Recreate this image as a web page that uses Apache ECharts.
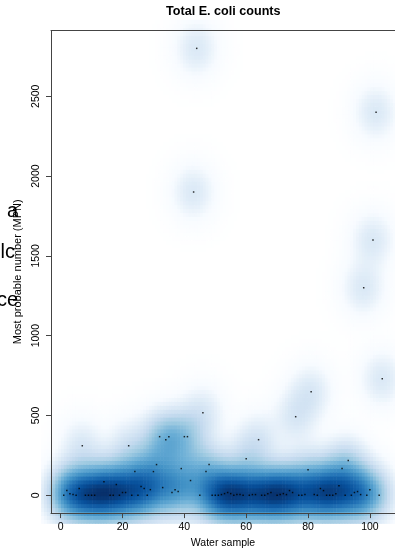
<!DOCTYPE html>
<html>
<head>
<meta charset="utf-8">
<script src="https://cdn.jsdelivr.net/npm/echarts@6/dist/echarts.min.js"></script>
<style>
  html, body { margin: 0; padding: 0; background: #ffffff; }
  #chart { width: 395px; height: 554px; }
</style>
</head>
<body>
<div id="chart"></div>
<script>
// Water sample number and its total E. coli count (MPN)
const sampleIds = [
  1, 2, 3, 4, 5, 6, 7, 8, 9, 10, 11, 12, 13, 14, 15, 16, 17, 18, 19, 20,
  21, 22, 23, 24, 25, 26, 27, 28, 29, 30, 31, 32, 33, 34, 35, 36, 37, 38, 39, 40,
  41, 42, 43, 44, 45, 46, 47, 48, 49, 50, 51, 52, 53, 54, 55, 56, 57, 58, 59, 60,
  61, 62, 63, 64, 65, 66, 67, 68, 69, 70, 71, 72, 73, 74, 75, 76, 77, 78, 79, 80,
  81, 82, 83, 84, 85, 86, 87, 88, 89, 90, 91, 92, 93, 94, 95, 96, 97, 98, 99, 100,
  101, 102, 103, 104
];
const mpnValues = [
  0, 29, 10, 4, 0, 42, 310, 0, 0, 0, 0, 2, 4, 85, 0, 0, 0, 67, 0, 17,
  17, 310, 0, 148, 0, 54, 42, 0, 35, 148, 192, 367, 48, 348, 367, 17, 35, 23, 167, 367,
  367, 92, 1900, 2800, 0, 517, 148, 192, 0, 0, 0, 4, 10, 17, 10, 0, 4, 4, 0, 229,
  0, 4, 4, 348, 0, 0, 10, 17, 2, 0, 4, 10, 4, 29, 17, 492, 0, 0, 4, 160,
  648, 4, 0, 42, 29, 0, 0, 0, 10, 60, 167, 0, 217, 0, 17, 23, 4, 1300, 0, 35,
  1600, 2400, 0, 730
];
const xTickLabels = [0, 20, 40, 60, 80, 100];
const yTickLabels = [0, 500, 1000, 1500, 2000, 2500];

// Smoothed-scatter settings: kernel bandwidths, density gamma, grid size, dots to mark
const bandwidthX = 4.5;
const bandwidthY = 110;
const densityGamma = 0.62;
const gridBins = 128;
const markedPoints = 100;

// White-to-blue colour ramp (256 steps)
const rampAnchors = ['#FFFFFF', '#F7FBFF', '#DEEBF7', '#C6DBEF', '#9ECAE1',
                     '#6BAED6', '#4292C6', '#2171B5', '#08519C', '#08306B'];
function hexToRgb(h) {
  return [parseInt(h.substr(1, 2), 16), parseInt(h.substr(3, 2), 16), parseInt(h.substr(5, 2), 16)];
}
const ramp = [];
(function buildRamp() {
  const rgb = rampAnchors.map(hexToRgb);
  const segs = rgb.length - 1;
  for (let i = 0; i < 256; i++) {
    const t = i / 255 * segs;
    const k = Math.min(Math.floor(t), segs - 1);
    const f = t - k;
    const c = [0, 1, 2].map(j => Math.round(rgb[k][j] + (rgb[k + 1][j] - rgb[k][j]) * f));
    ramp.push('rgb(' + c.join(',') + ')');
  }
})();

// Gaussian kernel density, truncated at 3.4 bandwidths
function kernelDensity(x, y) {
  let s = 0;
  for (let n = 0; n < sampleIds.length; n++) {
    const u = (x - sampleIds[n]) / bandwidthX;
    const v = (y - mpnValues[n]) / bandwidthY;
    if (Math.abs(u) > 3.4 || Math.abs(v) > 3.4) continue;
    s += Math.exp(-0.5 * (u * u + v * v));
  }
  return s;
}

const gx0 = Math.min(...sampleIds) - 1.5 * bandwidthX;
const gx1 = Math.max(...sampleIds) + 1.5 * bandwidthX;
const gy0 = Math.min(...mpnValues) - 1.5 * bandwidthY;
const gy1 = Math.max(...mpnValues) + 1.5 * bandwidthY;
const cellW = (gx1 - gx0) / (gridBins - 1);
const cellH = (gy1 - gy0) / (gridBins - 1);

const densGrid = [];
let tMin = Infinity, tMax = -Infinity;
for (let i = 0; i < gridBins; i++) {
  for (let j = 0; j < gridBins; j++) {
    const cx = gx0 + i * cellW, cy = gy0 + j * cellH;
    const t = Math.pow(kernelDensity(cx, cy), densityGamma);
    densGrid.push([cx, cy, t]);
    if (t < tMin) tMin = t;
    if (t > tMax) tMax = t;
  }
}
const cellData = [];
densGrid.forEach(d => {
  const idx = Math.round((d[2] - tMin) / (tMax - tMin) * 255);
  if (idx > 0) cellData.push([d[0], d[1], idx]);
});

// Mark the samples lying in the sparsest regions
const pointDensity = sampleIds.map((id, n) => ({ n, d: kernelDensity(id, mpnValues[n]) }));
pointDensity.sort((a, b) => a.d - b.d);
const dotData = pointDensity.slice(0, markedPoints).map(p => [sampleIds[p.n], mpnValues[p.n]]);

const xMin = 1 - 0.04 * 103, xMax = 104 + 0.04 * 103;
const yMin = -0.04 * 2800, yMax = 2800 * 1.04;

const font = '"Liberation Sans", Arial, Helvetica, sans-serif';
const frameLine = { show: true, onZero: false, lineStyle: { color: '#444', width: 1 } };
const chart = echarts.init(document.getElementById('chart'), null, { renderer: 'canvas' });
chart.setOption({
  animation: false,
  backgroundColor: '#ffffff',
  title: {
    text: 'Total E. coli counts',
    left: 161,
    top: 0,
    textStyle: { fontFamily: font, fontSize: 12.6, fontWeight: 'bold', color: '#000' }
  },
  grid: { left: 51, top: 30.5, width: 348, height: 484.5, show: false },
  xAxis: [
    {
      type: 'value', min: xMin, max: xMax, z: 4,
      name: 'Water sample', nameLocation: 'middle', nameGap: 21,
      nameTextStyle: { fontFamily: font, fontSize: 10.5, color: '#000' },
      axisLine: frameLine,
      axisTick: { show: true, length: 5, customValues: xTickLabels, lineStyle: { color: '#444' } },
      axisLabel: { customValues: xTickLabels, margin: 9, fontFamily: font, fontSize: 10.5, color: '#000' },
      splitLine: { show: false }
    },
    {
      type: 'value', min: xMin, max: xMax, z: 4, position: 'top',
      axisLine: frameLine,
      axisTick: { show: false }, axisLabel: { show: false }, splitLine: { show: false }
    }
  ],
  yAxis: {
    type: 'value', min: yMin, max: yMax, z: 4,
    name: 'Most probable number (MPN)', nameLocation: 'middle', nameGap: 26, nameRotate: 90,
    nameTextStyle: { fontFamily: font, fontSize: 11, color: '#000' },
    axisLine: frameLine,
    axisTick: { show: true, length: 5, customValues: yTickLabels, lineStyle: { color: '#444' } },
    axisLabel: {
      customValues: yTickLabels, rotate: 90, margin: 9,
      formatter: v => String(v),
      fontFamily: font, fontSize: 10.5, color: '#000'
    },
    splitLine: { show: false }
  },
  graphic: [
    { type: 'text', z: -1, style: { x: 18, y: 211, text: 'a', textAlign: 'right', textVerticalAlign: 'middle', font: '20px ' + font, fill: '#000' } },
    { type: 'text', z: -1, style: { x: 15, y: 252, text: 'lc', textAlign: 'right', textVerticalAlign: 'middle', font: '20px ' + font, fill: '#000' } },
    { type: 'text', z: -1, style: { x: 18, y: 300, text: 'ce', textAlign: 'right', textVerticalAlign: 'middle', font: '20px ' + font, fill: '#000' } }
  ],
  series: [
    {
      type: 'custom',
      clip: true,
      silent: true,
      z: 1,
      data: cellData,
      dimensions: ['x', 'y', 'level'],
      encode: { x: 0, y: 1 },
      renderItem: function (params, api) {
        const x = api.value(0), y = api.value(1);
        const p0 = api.coord([x - cellW / 2, y + cellH / 2]);
        const p1 = api.coord([x + cellW / 2, y - cellH / 2]);
        return {
          type: 'rect',
          shape: { x: p0[0] - 0.3, y: p0[1] - 0.3, width: p1[0] - p0[0] + 0.6, height: p1[1] - p0[1] + 0.6 },
          style: { fill: ramp[api.value(2)] }
        };
      }
    },
    {
      type: 'scatter',
      silent: true,
      symbol: 'rect',
      symbolSize: 1.5,
      itemStyle: { color: '#000' },
      data: dotData,
      z: 6
    }
  ]
});
</script>
</body>
</html>
